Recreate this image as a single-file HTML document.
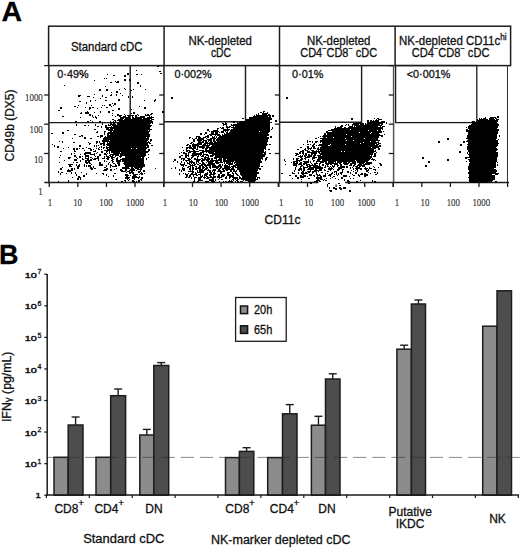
<!DOCTYPE html>
<html><head><meta charset="utf-8"><style>
html,body{margin:0;padding:0;background:#fff;width:520px;height:548px;overflow:hidden}
svg{display:block}
text{stroke:#111;stroke-width:0.3px}
text.ser{stroke-width:0.15px}
text.b10{stroke-width:0.45px}
</style></head><body>
<svg width="520" height="548" viewBox="0 0 520 548"><text x="1.6" y="20.9" font-family="Liberation Sans, sans-serif" font-weight="bold" font-size="27.5" fill="#000" textLength="20.6" lengthAdjust="spacingAndGlyphs">A</text>
<rect x="48.6" y="26.2" width="462" height="39.4" fill="none" stroke="#1c1c1c" stroke-width="1.5"/>
<line x1="164.1" y1="26" x2="164.1" y2="66" stroke="#1c1c1c" stroke-width="1.5"/>
<line x1="279.5" y1="26" x2="279.5" y2="66" stroke="#1c1c1c" stroke-width="1.5"/>
<line x1="395.1" y1="26" x2="395.1" y2="66" stroke="#1c1c1c" stroke-width="1.5"/>
<line x1="48.9" y1="65.5" x2="48.9" y2="183.2" stroke="#1c1c1c" stroke-width="1.5"/>
<line x1="164.0" y1="65.5" x2="164.0" y2="183.2" stroke="#1c1c1c" stroke-width="1.5"/>
<line x1="279.6" y1="65.5" x2="279.6" y2="183.2" stroke="#1c1c1c" stroke-width="1.5"/>
<line x1="393.6" y1="65.5" x2="393.6" y2="183.2" stroke="#555" stroke-width="1.5"/>
<line x1="507.5" y1="65.5" x2="507.5" y2="183" stroke="#333" stroke-width="1"/>
<line x1="44.3" y1="182.6" x2="509" y2="182.6" stroke="#1c1c1c" stroke-width="1.5"/>
<line x1="44.1" y1="65.6" x2="48.9" y2="65.6" stroke="#1c1c1c" stroke-width="1.3"/>
<line x1="44.1" y1="95.0" x2="48.9" y2="95.0" stroke="#1c1c1c" stroke-width="1.3"/>
<line x1="44.1" y1="124.2" x2="48.9" y2="124.2" stroke="#1c1c1c" stroke-width="1.3"/>
<line x1="44.1" y1="153.5" x2="48.9" y2="153.5" stroke="#1c1c1c" stroke-width="1.3"/>
<line x1="159.2" y1="65.6" x2="164.0" y2="65.6" stroke="#1c1c1c" stroke-width="1.3"/>
<line x1="159.2" y1="95.0" x2="164.0" y2="95.0" stroke="#1c1c1c" stroke-width="1.3"/>
<line x1="159.2" y1="124.2" x2="164.0" y2="124.2" stroke="#1c1c1c" stroke-width="1.3"/>
<line x1="159.2" y1="153.5" x2="164.0" y2="153.5" stroke="#1c1c1c" stroke-width="1.3"/>
<line x1="274.8" y1="65.6" x2="279.6" y2="65.6" stroke="#1c1c1c" stroke-width="1.3"/>
<line x1="274.8" y1="95.0" x2="279.6" y2="95.0" stroke="#1c1c1c" stroke-width="1.3"/>
<line x1="274.8" y1="124.2" x2="279.6" y2="124.2" stroke="#1c1c1c" stroke-width="1.3"/>
<line x1="274.8" y1="153.5" x2="279.6" y2="153.5" stroke="#1c1c1c" stroke-width="1.3"/>
<line x1="388.8" y1="65.6" x2="393.6" y2="65.6" stroke="#1c1c1c" stroke-width="1.3"/>
<line x1="388.8" y1="95.0" x2="393.6" y2="95.0" stroke="#1c1c1c" stroke-width="1.3"/>
<line x1="388.8" y1="124.2" x2="393.6" y2="124.2" stroke="#1c1c1c" stroke-width="1.3"/>
<line x1="388.8" y1="153.5" x2="393.6" y2="153.5" stroke="#1c1c1c" stroke-width="1.3"/>
<line x1="49.25" y1="182.6" x2="49.25" y2="187" stroke="#1c1c1c" stroke-width="1.3"/>
<line x1="77.85" y1="182.6" x2="77.85" y2="187" stroke="#1c1c1c" stroke-width="1.3"/>
<line x1="106.45" y1="182.6" x2="106.45" y2="187" stroke="#1c1c1c" stroke-width="1.3"/>
<line x1="135.05" y1="182.6" x2="135.05" y2="187" stroke="#1c1c1c" stroke-width="1.3"/>
<line x1="163.65" y1="182.6" x2="163.65" y2="187" stroke="#1c1c1c" stroke-width="1.3"/>
<line x1="163.90" y1="182.6" x2="163.90" y2="187" stroke="#1c1c1c" stroke-width="1.3"/>
<line x1="192.50" y1="182.6" x2="192.50" y2="187" stroke="#1c1c1c" stroke-width="1.3"/>
<line x1="221.10" y1="182.6" x2="221.10" y2="187" stroke="#1c1c1c" stroke-width="1.3"/>
<line x1="249.70" y1="182.6" x2="249.70" y2="187" stroke="#1c1c1c" stroke-width="1.3"/>
<line x1="278.30" y1="182.6" x2="278.30" y2="187" stroke="#1c1c1c" stroke-width="1.3"/>
<line x1="278.90" y1="182.6" x2="278.90" y2="187" stroke="#1c1c1c" stroke-width="1.3"/>
<line x1="307.50" y1="182.6" x2="307.50" y2="187" stroke="#1c1c1c" stroke-width="1.3"/>
<line x1="336.10" y1="182.6" x2="336.10" y2="187" stroke="#1c1c1c" stroke-width="1.3"/>
<line x1="364.70" y1="182.6" x2="364.70" y2="187" stroke="#1c1c1c" stroke-width="1.3"/>
<line x1="393.30" y1="182.6" x2="393.30" y2="187" stroke="#1c1c1c" stroke-width="1.3"/>
<line x1="393.20" y1="182.6" x2="393.20" y2="187" stroke="#1c1c1c" stroke-width="1.3"/>
<line x1="421.80" y1="182.6" x2="421.80" y2="187" stroke="#1c1c1c" stroke-width="1.3"/>
<line x1="450.40" y1="182.6" x2="450.40" y2="187" stroke="#1c1c1c" stroke-width="1.3"/>
<line x1="479.00" y1="182.6" x2="479.00" y2="187" stroke="#1c1c1c" stroke-width="1.3"/>
<line x1="507.60" y1="182.6" x2="507.60" y2="187" stroke="#1c1c1c" stroke-width="1.3"/>
<polyline points="48.9,122.6 130.2,122.6 130.2,65.5" fill="none" stroke="#1c1c1c" stroke-width="1.4"/>
<polyline points="164.0,121.8 245.5,121.8 245.5,65.5" fill="none" stroke="#1c1c1c" stroke-width="1.4"/>
<polyline points="279.6,122.2 361.6,122.2 361.6,65.5" fill="none" stroke="#1c1c1c" stroke-width="1.4"/>
<rect x="395.6" y="65.5" width="81.2" height="57.1" fill="none" stroke="#1c1c1c" stroke-width="1.3"/>
<text x="106.7" y="50.6" font-family="Liberation Sans, sans-serif" font-size="12" text-anchor="middle" fill="#111" textLength="71.4" lengthAdjust="spacingAndGlyphs">Standard cDC</text>
<text x="220.2" y="45.0" font-family="Liberation Sans, sans-serif" font-size="12" text-anchor="middle" fill="#111" textLength="63.6" lengthAdjust="spacingAndGlyphs">NK-depleted</text>
<text x="221.0" y="56.6" font-family="Liberation Sans, sans-serif" font-size="12" text-anchor="middle" fill="#111" textLength="20.2" lengthAdjust="spacingAndGlyphs">cDC</text>
<text x="338.7" y="45.0" font-family="Liberation Sans, sans-serif" font-size="12" text-anchor="middle" fill="#111" textLength="63.6" lengthAdjust="spacingAndGlyphs">NK-depleted</text>
<text x="338.7" y="56.6" font-family="Liberation Sans, sans-serif" font-size="12" text-anchor="middle" fill="#111" textLength="77" lengthAdjust="spacingAndGlyphs">CD4<tspan dy="-5.5" font-size="8">−</tspan><tspan dy="5.5">CD8</tspan><tspan dy="-5.5" font-size="8">−</tspan><tspan dy="5.5"> cDC</tspan></text>
<text x="450.6" y="56.6" font-family="Liberation Sans, sans-serif" font-size="12" text-anchor="middle" fill="#111" textLength="77.7" lengthAdjust="spacingAndGlyphs">CD4<tspan dy="-5.5" font-size="8">−</tspan><tspan dy="5.5">CD8</tspan><tspan dy="-5.5" font-size="8">−</tspan><tspan dy="5.5"> cDC</tspan></text>
<text x="399" y="45.0" font-family="Liberation Sans, sans-serif" font-size="12" text-anchor="start" fill="#111" textLength="107.5" lengthAdjust="spacingAndGlyphs">NK-depleted CD11c<tspan dy="-5" font-size="8.5">hi</tspan></text>
<text x="57.3" y="77.8" font-family="Liberation Sans, sans-serif" font-size="10.8" text-anchor="start" fill="#111" >0·49%</text>
<text x="174.5" y="77.8" font-family="Liberation Sans, sans-serif" font-size="10.8" text-anchor="start" fill="#111" >0·002%</text>
<text x="292.1" y="77.8" font-family="Liberation Sans, sans-serif" font-size="10.8" text-anchor="start" fill="#111" >0·01%</text>
<text x="406.8" y="77.8" font-family="Liberation Sans, sans-serif" font-size="10.8" text-anchor="start" fill="#111" >&lt;0·001%</text>
<text x="42.8" y="101.3" font-family="Liberation Serif, serif" font-size="10.4" text-anchor="end" fill="#111" fill-opacity="0.85" class="ser" textLength="17.80" lengthAdjust="spacingAndGlyphs">1000</text>
<text x="42.8" y="132.5" font-family="Liberation Serif, serif" font-size="10.4" text-anchor="end" fill="#111" fill-opacity="0.85" class="ser" textLength="13.35" lengthAdjust="spacingAndGlyphs">100</text>
<text x="42.8" y="162.8" font-family="Liberation Serif, serif" font-size="10.4" text-anchor="end" fill="#111" fill-opacity="0.85" class="ser" textLength="8.90" lengthAdjust="spacingAndGlyphs">10</text>
<text x="42.8" y="195.2" font-family="Liberation Serif, serif" font-size="10.4" text-anchor="end" fill="#111" fill-opacity="0.85" class="ser" textLength="4.45" lengthAdjust="spacingAndGlyphs">1</text>
<text x="50" y="205.8" font-family="Liberation Serif, serif" font-size="10.6" text-anchor="middle" fill="#111" fill-opacity="0.85" class="ser" textLength="4.45" lengthAdjust="spacingAndGlyphs">1</text>
<text x="77.6" y="205.8" font-family="Liberation Serif, serif" font-size="10.6" text-anchor="middle" fill="#111" fill-opacity="0.85" class="ser" textLength="8.90" lengthAdjust="spacingAndGlyphs">10</text>
<text x="106" y="205.8" font-family="Liberation Serif, serif" font-size="10.6" text-anchor="middle" fill="#111" fill-opacity="0.85" class="ser" textLength="13.35" lengthAdjust="spacingAndGlyphs">100</text>
<text x="135" y="205.8" font-family="Liberation Serif, serif" font-size="10.6" text-anchor="middle" fill="#111" fill-opacity="0.85" class="ser" textLength="17.80" lengthAdjust="spacingAndGlyphs">1000</text>
<text x="165" y="205.8" font-family="Liberation Serif, serif" font-size="10.6" text-anchor="middle" fill="#111" fill-opacity="0.85" class="ser" textLength="4.45" lengthAdjust="spacingAndGlyphs">1</text>
<text x="193.3" y="205.8" font-family="Liberation Serif, serif" font-size="10.6" text-anchor="middle" fill="#111" fill-opacity="0.85" class="ser" textLength="8.90" lengthAdjust="spacingAndGlyphs">10</text>
<text x="221.3" y="205.8" font-family="Liberation Serif, serif" font-size="10.6" text-anchor="middle" fill="#111" fill-opacity="0.85" class="ser" textLength="13.35" lengthAdjust="spacingAndGlyphs">100</text>
<text x="250" y="205.8" font-family="Liberation Serif, serif" font-size="10.6" text-anchor="middle" fill="#111" fill-opacity="0.85" class="ser" textLength="17.80" lengthAdjust="spacingAndGlyphs">1000</text>
<text x="281.3" y="205.8" font-family="Liberation Serif, serif" font-size="10.6" text-anchor="middle" fill="#111" fill-opacity="0.85" class="ser" textLength="4.45" lengthAdjust="spacingAndGlyphs">1</text>
<text x="308.8" y="205.8" font-family="Liberation Serif, serif" font-size="10.6" text-anchor="middle" fill="#111" fill-opacity="0.85" class="ser" textLength="8.90" lengthAdjust="spacingAndGlyphs">10</text>
<text x="337.5" y="205.8" font-family="Liberation Serif, serif" font-size="10.6" text-anchor="middle" fill="#111" fill-opacity="0.85" class="ser" textLength="13.35" lengthAdjust="spacingAndGlyphs">100</text>
<text x="366.3" y="205.8" font-family="Liberation Serif, serif" font-size="10.6" text-anchor="middle" fill="#111" fill-opacity="0.85" class="ser" textLength="17.80" lengthAdjust="spacingAndGlyphs">1000</text>
<text x="397" y="205.8" font-family="Liberation Serif, serif" font-size="10.6" text-anchor="middle" fill="#111" fill-opacity="0.85" class="ser" textLength="4.45" lengthAdjust="spacingAndGlyphs">1</text>
<text x="425" y="205.8" font-family="Liberation Serif, serif" font-size="10.6" text-anchor="middle" fill="#111" fill-opacity="0.85" class="ser" textLength="8.90" lengthAdjust="spacingAndGlyphs">10</text>
<text x="453.3" y="205.8" font-family="Liberation Serif, serif" font-size="10.6" text-anchor="middle" fill="#111" fill-opacity="0.85" class="ser" textLength="13.35" lengthAdjust="spacingAndGlyphs">100</text>
<text x="481.3" y="205.8" font-family="Liberation Serif, serif" font-size="10.6" text-anchor="middle" fill="#111" fill-opacity="0.85" class="ser" textLength="17.80" lengthAdjust="spacingAndGlyphs">1000</text>
<text x="264.6" y="223.8" font-family="Liberation Sans, sans-serif" font-size="12" text-anchor="start" fill="#111" >CD11c</text>
<text transform="translate(14.3,125.5) rotate(-90)" font-family="Liberation Sans, sans-serif" font-size="12" text-anchor="middle" fill="#111">CD49b (DX5)</text>
<rect x="318.5" y="181" width="26.5" height="3.5" fill="#fff"/>
<path d="M157 66.5h2M136 70.5h1M159 71.5h2M80 73.5h1M127 73.5h2M160 73.5h2M107 74.5h1M127 74.5h2M136 74.5h2M141 74.5h1M82 75.5h2M113 75.5h2M124 75.5h2M124 76.5h2M104 78.5h1M106 78.5h1M124 79.5h2M129 79.5h2M94 80.5h1M124 80.5h2M129 80.5h2M115 81.5h1M117 81.5h2M110 82.5h2M116 82.5h3M137 82.5h2M137 83.5h2M64 85.5h1M140 85.5h1M105 86.5h1M140 86.5h1M124 88.5h1M99 89.5h2M106 89.5h2M119 89.5h1M125 89.5h1M133 89.5h1M145 89.5h1M99 90.5h2M106 90.5h2M130 90.5h2M116 91.5h2M111 92.5h1M116 92.5h2M120 93.5h1M94 94.5h1M111 94.5h1M116 94.5h1M78 95.5h3M102 95.5h1M110 95.5h2M116 95.5h1M122 95.5h1M78 96.5h2M87 96.5h3M102 96.5h1M128 96.5h1M132 96.5h1M93 97.5h1M105 97.5h2M128 97.5h1M132 97.5h1M171 97.5h2M286 97.5h2M100 98.5h1M171 98.5h2M286 98.5h2M118 99.5h2M155 99.5h1M90 100.5h1M95 100.5h1M105 100.5h2M118 100.5h2M144 100.5h1M154 100.5h2M79 101.5h2M90 101.5h1M154 101.5h1M86 102.5h1M86 103.5h1M112 103.5h1M114 103.5h2M130 103.5h1M109 104.5h2M114 104.5h2M78 105.5h1M91 105.5h1M102 105.5h1M104 105.5h1M109 105.5h2M113 105.5h1M74 106.5h2M111 106.5h1M139 106.5h1M60 107.5h2M77 107.5h1M85 107.5h1M89 107.5h2M92 107.5h2M101 107.5h1M106 107.5h2M144 107.5h2M60 108.5h2M89 108.5h2M97 108.5h1M118 108.5h2M144 108.5h2M89 109.5h1M118 109.5h2M131 109.5h1M58 110.5h2M112 110.5h2M87 111.5h1M100 111.5h1M108 111.5h2M162 111.5h2M263 111.5h2M81 112.5h1M85 112.5h4M94 112.5h1M100 112.5h1M108 112.5h2M133 112.5h2M162 112.5h2M260 112.5h2M263 112.5h1M267 112.5h1M80 113.5h2M85 113.5h4M112 113.5h1M131 113.5h1M133 113.5h2M151 113.5h2M258 113.5h1M262 113.5h6M89 114.5h2M117 114.5h2M124 114.5h1M137 114.5h1M145 114.5h1M147 114.5h2M150 114.5h2M256 114.5h1M258 114.5h1M262 114.5h5M268 114.5h2M89 115.5h2M92 115.5h1M98 115.5h1M112 115.5h1M117 115.5h5M125 115.5h1M127 115.5h3M131 115.5h3M135 115.5h2M138 115.5h1M145 115.5h5M254 115.5h1M256 115.5h15M272 115.5h2M62 116.5h2M92 116.5h1M95 116.5h1M115 116.5h1M119 116.5h2M123 116.5h3M128 116.5h2M132 116.5h1M135 116.5h2M140 116.5h5M149 116.5h1M151 116.5h1M253 116.5h15M269 116.5h2M272 116.5h2M497 116.5h2M80 117.5h1M93 117.5h1M95 117.5h2M120 117.5h10M132 117.5h2M135 117.5h10M147 117.5h7M245 117.5h1M249 117.5h22M485 117.5h1M490 117.5h6M497 117.5h2M96 118.5h1M120 118.5h4M125 118.5h6M132 118.5h10M143 118.5h9M242 118.5h2M245 118.5h1M249 118.5h23M351 118.5h2M374 118.5h1M377 118.5h2M479 118.5h1M481 118.5h1M483 118.5h3M489 118.5h5M495 118.5h2M112 119.5h2M118 119.5h5M124 119.5h26M151 119.5h3M246 119.5h26M351 119.5h2M376 119.5h1M378 119.5h4M477 119.5h1M479 119.5h9M489 119.5h6M496 119.5h3M90 120.5h1M114 120.5h2M117 120.5h35M245 120.5h25M275 120.5h2M367 120.5h2M370 120.5h2M373 120.5h1M375 120.5h4M477 120.5h21M75 121.5h2M87 121.5h2M92 121.5h1M99 121.5h2M110 121.5h1M113 121.5h1M115 121.5h1M119 121.5h34M231 121.5h4M240 121.5h30M275 121.5h2M367 121.5h2M370 121.5h9M381 121.5h4M472 121.5h3M476 121.5h22M75 122.5h2M82 122.5h1M99 122.5h2M104 122.5h1M113 122.5h3M120 122.5h33M225 122.5h1M233 122.5h2M237 122.5h1M239 122.5h33M359 122.5h2M367 122.5h18M386 122.5h1M471 122.5h26M102 123.5h1M110 123.5h2M113 123.5h2M117 123.5h34M152 123.5h1M222 123.5h2M225 123.5h2M237 123.5h33M353 123.5h11M365 123.5h1M367 123.5h16M386 123.5h1M472 123.5h26M76 124.5h1M95 124.5h1M102 124.5h1M108 124.5h1M110 124.5h6M117 124.5h33M223 124.5h4M231 124.5h1M233 124.5h37M346 124.5h1M348 124.5h1M352 124.5h7M360 124.5h4M365 124.5h15M381 124.5h2M471 124.5h28M76 125.5h1M84 125.5h2M88 125.5h1M95 125.5h1M105 125.5h2M108 125.5h3M112 125.5h40M223 125.5h1M226 125.5h1M231 125.5h39M341 125.5h2M345 125.5h1M348 125.5h1M352 125.5h1M354 125.5h28M469 125.5h30M97 126.5h2M101 126.5h1M105 126.5h2M111 126.5h1M113 126.5h38M226 126.5h2M229 126.5h2M233 126.5h1M235 126.5h35M335 126.5h1M340 126.5h3M349 126.5h4M354 126.5h1M356 126.5h22M380 126.5h1M382 126.5h3M468 126.5h30M101 127.5h1M105 127.5h45M220 127.5h1M222 127.5h2M226 127.5h4M231 127.5h39M272 127.5h1M335 127.5h1M337 127.5h5M344 127.5h2M348 127.5h35M466 127.5h1M468 127.5h30M106 128.5h3M110 128.5h40M217 128.5h2M221 128.5h3M227 128.5h1M233 128.5h37M272 128.5h1M334 128.5h49M468 128.5h29M94 129.5h2M106 129.5h7M114 129.5h38M207 129.5h2M217 129.5h1M223 129.5h7M231 129.5h39M271 129.5h1M331 129.5h19M351 129.5h30M382 129.5h1M466 129.5h2M469 129.5h30M67 130.5h2M108 130.5h40M149 130.5h1M207 130.5h2M213 130.5h5M223 130.5h6M230 130.5h40M328 130.5h40M369 130.5h8M378 130.5h3M466 130.5h33M97 131.5h1M104 131.5h2M110 131.5h2M113 131.5h37M209 131.5h1M211 131.5h8M221 131.5h3M225 131.5h1M227 131.5h1M230 131.5h29M260 131.5h10M326 131.5h2M332 131.5h50M383 131.5h1M466 131.5h32M62 132.5h2M96 132.5h2M104 132.5h1M108 132.5h41M205 132.5h2M211 132.5h3M215 132.5h3M219 132.5h1M221 132.5h3M226 132.5h2M229 132.5h40M326 132.5h33M360 132.5h11M372 132.5h10M468 132.5h30M51 133.5h2M62 133.5h2M104 133.5h1M107 133.5h42M200 133.5h2M205 133.5h2M211 133.5h3M215 133.5h3M224 133.5h1M226 133.5h42M324 133.5h2M327 133.5h43M371 133.5h8M468 133.5h30M74 134.5h2M104 134.5h1M107 134.5h2M110 134.5h40M200 134.5h2M204 134.5h1M209 134.5h11M222 134.5h1M224 134.5h45M324 134.5h2M327 134.5h19M347 134.5h33M384 134.5h1M468 134.5h29M81 135.5h2M100 135.5h3M107 135.5h43M207 135.5h2M210 135.5h2M215 135.5h1M217 135.5h4M222 135.5h47M323 135.5h60M467 135.5h30M499 135.5h1M79 136.5h2M82 136.5h1M97 136.5h2M100 136.5h3M105 136.5h1M107 136.5h43M196 136.5h4M205 136.5h4M212 136.5h1M214 136.5h1M216 136.5h1M219 136.5h48M270 136.5h2M320 136.5h1M322 136.5h29M352 136.5h27M381 136.5h2M467 136.5h30M499 136.5h1M84 137.5h2M100 137.5h1M104 137.5h42M147 137.5h2M189 137.5h2M196 137.5h1M198 137.5h3M203 137.5h3M207 137.5h2M212 137.5h3M216 137.5h1M218 137.5h51M270 137.5h2M318 137.5h1M323 137.5h3M327 137.5h6M334 137.5h45M467 137.5h30M72 138.5h1M84 138.5h2M90 138.5h2M103 138.5h46M189 138.5h1M192 138.5h1M195 138.5h2M198 138.5h6M206 138.5h1M210 138.5h6M217 138.5h52M315 138.5h2M320 138.5h25M346 138.5h18M365 138.5h13M447 138.5h2M466 138.5h31M103 139.5h46M150 139.5h2M193 139.5h2M197 139.5h7M207 139.5h5M213 139.5h2M216 139.5h52M322 139.5h56M447 139.5h2M468 139.5h28M498 139.5h1M102 140.5h7M110 140.5h38M150 140.5h2M193 140.5h2M197 140.5h5M203 140.5h4M208 140.5h4M213 140.5h2M216 140.5h52M307 140.5h1M320 140.5h26M347 140.5h6M354 140.5h26M467 140.5h31M59 141.5h1M62 141.5h1M96 141.5h2M99 141.5h1M102 141.5h45M148 141.5h1M150 141.5h1M193 141.5h2M198 141.5h3M202 141.5h2M205 141.5h2M208 141.5h1M210 141.5h2M213 141.5h3M217 141.5h51M307 141.5h1M309 141.5h2M312 141.5h1M315 141.5h3M320 141.5h50M371 141.5h5M378 141.5h1M438 141.5h2M463 141.5h2M466 141.5h32M62 142.5h1M73 142.5h2M88 142.5h1M96 142.5h2M99 142.5h1M103 142.5h2M107 142.5h1M109 142.5h41M191 142.5h2M198 142.5h6M205 142.5h3M209 142.5h4M214 142.5h53M307 142.5h1M312 142.5h1M315 142.5h2M320 142.5h1M322 142.5h41M364 142.5h15M438 142.5h2M463 142.5h2M468 142.5h30M89 143.5h2M96 143.5h1M100 143.5h5M107 143.5h41M149 143.5h2M190 143.5h2M193 143.5h1M197 143.5h5M204 143.5h63M314 143.5h1M322 143.5h38M361 143.5h16M378 143.5h3M468 143.5h31M52 144.5h1M89 144.5h1M100 144.5h2M103 144.5h2M106 144.5h42M187 144.5h2M192 144.5h10M203 144.5h3M207 144.5h1M209 144.5h59M269 144.5h2M303 144.5h1M307 144.5h2M310 144.5h1M313 144.5h2M319 144.5h11M331 144.5h14M346 144.5h29M376 144.5h3M460 144.5h2M467 144.5h31M54 145.5h1M79 145.5h2M94 145.5h1M96 145.5h1M98 145.5h1M103 145.5h2M107 145.5h42M151 145.5h2M186 145.5h2M189 145.5h2M192 145.5h7M202 145.5h8M212 145.5h55M312 145.5h2M316 145.5h1M318 145.5h10M330 145.5h48M379 145.5h2M460 145.5h2M468 145.5h30M54 146.5h1M57 146.5h2M79 146.5h2M94 146.5h1M96 146.5h1M101 146.5h1M106 146.5h1M109 146.5h37M147 146.5h2M189 146.5h2M192 146.5h4M197 146.5h8M206 146.5h3M211 146.5h55M307 146.5h2M312 146.5h3M321 146.5h60M467 146.5h30M57 147.5h2M68 147.5h1M86 147.5h1M99 147.5h1M101 147.5h1M103 147.5h2M106 147.5h43M182 147.5h1M186 147.5h6M193 147.5h3M197 147.5h1M199 147.5h6M206 147.5h60M300 147.5h2M307 147.5h2M311 147.5h1M313 147.5h2M318 147.5h1M320 147.5h51M372 147.5h7M467 147.5h29M63 148.5h1M73 148.5h2M76 148.5h2M79 148.5h1M82 148.5h2M88 148.5h3M96 148.5h1M98 148.5h1M103 148.5h1M106 148.5h2M109 148.5h22M132 148.5h4M137 148.5h10M186 148.5h2M189 148.5h7M197 148.5h1M202 148.5h2M205 148.5h3M209 148.5h57M305 148.5h1M307 148.5h5M313 148.5h3M317 148.5h2M320 148.5h56M378 148.5h2M467 148.5h30M73 149.5h2M76 149.5h2M90 149.5h2M93 149.5h1M98 149.5h2M101 149.5h1M107 149.5h39M148 149.5h2M186 149.5h1M192 149.5h2M196 149.5h2M205 149.5h2M209 149.5h55M265 149.5h1M268 149.5h2M297 149.5h2M304 149.5h2M308 149.5h1M310 149.5h1M317 149.5h57M378 149.5h2M467 149.5h31M74 150.5h1M84 150.5h1M90 150.5h2M95 150.5h1M104 150.5h42M148 150.5h2M183 150.5h1M186 150.5h4M193 150.5h2M199 150.5h5M205 150.5h59M302 150.5h2M305 150.5h3M311 150.5h3M316 150.5h1M318 150.5h1M320 150.5h54M375 150.5h1M468 150.5h29M60 151.5h2M74 151.5h2M93 151.5h3M101 151.5h2M106 151.5h2M109 151.5h1M111 151.5h38M186 151.5h2M189 151.5h10M202 151.5h62M265 151.5h1M300 151.5h4M307 151.5h3M312 151.5h29M342 151.5h2M345 151.5h31M459 151.5h2M468 151.5h28M85 152.5h6M97 152.5h1M101 152.5h2M106 152.5h1M109 152.5h1M111 152.5h9M121 152.5h27M181 152.5h1M183 152.5h2M188 152.5h3M193 152.5h3M200 152.5h4M206 152.5h1M208 152.5h6M215 152.5h51M299 152.5h2M302 152.5h2M307 152.5h10M318 152.5h2M321 152.5h53M376 152.5h1M459 152.5h2M467 152.5h1M469 152.5h29M71 153.5h1M74 153.5h1M84 153.5h7M94 153.5h1M96 153.5h1M104 153.5h2M107 153.5h1M109 153.5h1M113 153.5h33M179 153.5h1M183 153.5h4M188 153.5h1M192 153.5h10M203 153.5h1M209 153.5h54M264 153.5h2M269 153.5h2M295 153.5h3M299 153.5h2M302 153.5h2M305 153.5h2M311 153.5h6M319 153.5h54M374 153.5h2M467 153.5h1M469 153.5h29M71 154.5h1M80 154.5h1M84 154.5h2M90 154.5h5M99 154.5h2M104 154.5h3M110 154.5h9M120 154.5h26M148 154.5h1M185 154.5h2M188 154.5h1M192 154.5h10M203 154.5h5M212 154.5h54M296 154.5h3M303 154.5h1M305 154.5h2M308 154.5h2M311 154.5h2M314 154.5h2M320 154.5h53M374 154.5h2M468 154.5h30M60 155.5h1M74 155.5h2M85 155.5h4M94 155.5h1M99 155.5h2M106 155.5h1M109 155.5h2M112 155.5h2M115 155.5h4M120 155.5h26M181 155.5h2M185 155.5h4M191 155.5h6M198 155.5h1M200 155.5h1M202 155.5h2M206 155.5h3M210 155.5h4M215 155.5h50M295 155.5h2M300 155.5h1M302 155.5h1M304 155.5h3M308 155.5h4M313 155.5h3M317 155.5h4M322 155.5h48M371 155.5h1M374 155.5h2M469 155.5h29M74 156.5h2M79 156.5h2M82 156.5h1M85 156.5h4M95 156.5h1M97 156.5h2M104 156.5h1M106 156.5h3M110 156.5h3M115 156.5h1M119 156.5h3M125 156.5h20M179 156.5h2M185 156.5h2M188 156.5h1M192 156.5h2M197 156.5h2M201 156.5h3M205 156.5h1M208 156.5h1M210 156.5h3M215 156.5h50M298 156.5h5M304 156.5h2M307 156.5h5M313 156.5h2M318 156.5h54M373 156.5h3M469 156.5h29M59 157.5h1M68 157.5h3M76 157.5h1M79 157.5h2M85 157.5h1M88 157.5h1M90 157.5h2M97 157.5h2M104 157.5h1M107 157.5h3M111 157.5h4M117 157.5h1M120 157.5h1M125 157.5h16M142 157.5h2M148 157.5h1M179 157.5h2M185 157.5h2M191 157.5h2M197 157.5h1M204 157.5h5M214 157.5h49M266 157.5h2M300 157.5h2M305 157.5h5M312 157.5h5M318 157.5h54M422 157.5h2M465 157.5h32M68 158.5h2M77 158.5h1M82 158.5h1M85 158.5h4M92 158.5h1M94 158.5h5M102 158.5h3M106 158.5h3M111 158.5h2M116 158.5h2M122 158.5h22M146 158.5h1M181 158.5h4M187 158.5h3M191 158.5h1M194 158.5h2M197 158.5h1M201 158.5h2M204 158.5h2M207 158.5h3M211 158.5h2M214 158.5h3M219 158.5h3M223 158.5h40M265 158.5h2M293 158.5h1M296 158.5h3M301 158.5h2M304 158.5h2M312 158.5h3M318 158.5h53M372 158.5h1M422 158.5h2M465 158.5h2M470 158.5h27M74 159.5h3M82 159.5h2M87 159.5h2M90 159.5h2M93 159.5h3M98 159.5h1M107 159.5h2M112 159.5h2M116 159.5h2M120 159.5h24M146 159.5h1M174 159.5h2M181 159.5h1M183 159.5h2M188 159.5h3M194 159.5h7M202 159.5h8M211 159.5h2M216 159.5h1M218 159.5h4M223 159.5h3M227 159.5h34M262 159.5h1M265 159.5h2M284 159.5h1M293 159.5h1M296 159.5h2M300 159.5h3M305 159.5h1M308 159.5h1M312 159.5h1M317 159.5h4M322 159.5h48M371 159.5h4M447 159.5h2M468 159.5h29M64 160.5h1M74 160.5h3M80 160.5h1M85 160.5h7M98 160.5h1M104 160.5h1M111 160.5h2M116 160.5h5M122 160.5h22M174 160.5h2M183 160.5h1M185 160.5h5M191 160.5h1M196 160.5h4M201 160.5h4M206 160.5h3M210 160.5h12M223 160.5h38M265 160.5h1M284 160.5h1M296 160.5h6M308 160.5h1M313 160.5h2M317 160.5h3M322 160.5h33M356 160.5h13M373 160.5h1M375 160.5h1M447 160.5h2M469 160.5h28M80 161.5h1M85 161.5h2M88 161.5h2M104 161.5h1M106 161.5h1M112 161.5h2M116 161.5h5M122 161.5h22M173 161.5h1M177 161.5h1M181 161.5h1M186 161.5h1M189 161.5h4M196 161.5h3M201 161.5h2M207 161.5h7M215 161.5h3M220 161.5h2M223 161.5h11M235 161.5h27M285 161.5h1M293 161.5h5M299 161.5h1M303 161.5h6M310 161.5h1M313 161.5h1M316 161.5h11M328 161.5h8M337 161.5h19M357 161.5h11M428 161.5h2M466 161.5h1M469 161.5h28M59 162.5h1M73 162.5h1M76 162.5h2M85 162.5h5M99 162.5h2M109 162.5h1M112 162.5h1M117 162.5h3M124 162.5h20M177 162.5h1M181 162.5h1M184 162.5h1M187 162.5h1M189 162.5h6M196 162.5h1M198 162.5h1M202 162.5h2M206 162.5h1M208 162.5h5M215 162.5h8M224 162.5h1M226 162.5h5M232 162.5h1M234 162.5h28M291 162.5h1M293 162.5h2M296 162.5h2M300 162.5h2M304 162.5h5M310 162.5h1M316 162.5h1M320 162.5h4M325 162.5h2M328 162.5h6M335 162.5h1M337 162.5h5M343 162.5h4M348 162.5h2M352 162.5h4M357 162.5h8M366 162.5h6M428 162.5h2M470 162.5h26M497 162.5h1M86 163.5h2M89 163.5h2M99 163.5h2M108 163.5h1M113 163.5h2M117 163.5h3M123 163.5h21M180 163.5h1M184 163.5h1M187 163.5h3M191 163.5h1M193 163.5h2M196 163.5h1M199 163.5h2M202 163.5h3M208 163.5h7M216 163.5h3M224 163.5h1M226 163.5h7M234 163.5h1M236 163.5h24M293 163.5h5M299 163.5h3M303 163.5h4M311 163.5h1M314 163.5h4M319 163.5h2M325 163.5h13M339 163.5h2M343 163.5h6M350 163.5h6M359 163.5h5M365 163.5h7M379 163.5h2M469 163.5h27M68 164.5h5M76 164.5h1M79 164.5h1M84 164.5h1M91 164.5h1M99 164.5h4M108 164.5h1M110 164.5h1M115 164.5h1M118 164.5h2M124 164.5h21M180 164.5h5M189 164.5h2M192 164.5h1M194 164.5h2M197 164.5h2M201 164.5h5M207 164.5h8M219 164.5h2M222 164.5h1M225 164.5h1M228 164.5h5M235 164.5h25M285 164.5h1M293 164.5h4M298 164.5h4M303 164.5h2M306 164.5h4M312 164.5h1M314 164.5h2M319 164.5h1M322 164.5h2M326 164.5h3M330 164.5h2M334 164.5h4M340 164.5h2M344 164.5h4M350 164.5h2M354 164.5h2M358 164.5h4M363 164.5h7M380 164.5h2M469 164.5h27M497 164.5h1M69 165.5h2M76 165.5h1M78 165.5h2M84 165.5h1M86 165.5h1M88 165.5h3M99 165.5h4M106 165.5h1M110 165.5h2M115 165.5h2M118 165.5h2M125 165.5h20M181 165.5h3M185 165.5h2M190 165.5h5M199 165.5h4M204 165.5h7M212 165.5h4M218 165.5h3M222 165.5h1M224 165.5h4M229 165.5h1M233 165.5h27M293 165.5h4M301 165.5h2M306 165.5h2M309 165.5h9M319 165.5h1M322 165.5h2M325 165.5h1M327 165.5h1M332 165.5h1M334 165.5h1M337 165.5h2M340 165.5h2M349 165.5h3M353 165.5h2M357 165.5h8M380 165.5h2M425 165.5h2M469 165.5h27M497 165.5h1M69 166.5h3M77 166.5h3M84 166.5h1M86 166.5h1M88 166.5h3M93 166.5h1M106 166.5h1M110 166.5h1M112 166.5h5M125 166.5h20M183 166.5h1M188 166.5h3M192 166.5h1M195 166.5h2M199 166.5h2M202 166.5h2M205 166.5h2M209 166.5h2M212 166.5h10M224 166.5h6M231 166.5h5M237 166.5h23M261 166.5h2M296 166.5h1M300 166.5h2M303 166.5h1M307 166.5h4M313 166.5h8M325 166.5h1M327 166.5h2M330 166.5h1M332 166.5h3M337 166.5h1M340 166.5h5M346 166.5h2M353 166.5h1M355 166.5h3M359 166.5h2M362 166.5h3M373 166.5h1M425 166.5h2M468 166.5h28M62 167.5h1M77 167.5h2M90 167.5h2M93 167.5h1M104 167.5h2M110 167.5h1M122 167.5h7M131 167.5h2M134 167.5h9M175 167.5h1M182 167.5h1M187 167.5h2M190 167.5h1M192 167.5h2M196 167.5h1M198 167.5h3M202 167.5h3M206 167.5h2M209 167.5h2M212 167.5h7M220 167.5h2M224 167.5h7M232 167.5h2M235 167.5h24M295 167.5h1M300 167.5h1M303 167.5h5M309 167.5h14M324 167.5h2M329 167.5h1M331 167.5h1M333 167.5h1M338 167.5h7M346 167.5h2M350 167.5h1M352 167.5h1M356 167.5h4M365 167.5h1M369 167.5h1M374 167.5h1M378 167.5h1M468 167.5h28M60 168.5h2M71 168.5h2M74 168.5h1M77 168.5h2M90 168.5h3M94 168.5h2M106 168.5h2M116 168.5h1M122 168.5h8M131 168.5h3M135 168.5h4M140 168.5h2M155 168.5h1M171 168.5h1M175 168.5h1M182 168.5h3M189 168.5h2M192 168.5h2M195 168.5h6M202 168.5h2M205 168.5h3M210 168.5h1M216 168.5h2M219 168.5h2M222 168.5h8M231 168.5h3M237 168.5h24M295 168.5h1M299 168.5h3M303 168.5h2M308 168.5h6M315 168.5h8M328 168.5h5M338 168.5h4M350 168.5h1M353 168.5h1M355 168.5h7M364 168.5h4M369 168.5h3M468 168.5h26M60 169.5h2M68 169.5h1M71 169.5h2M74 169.5h1M91 169.5h2M104 169.5h4M110 169.5h2M114 169.5h1M120 169.5h2M125 169.5h2M130 169.5h5M137 169.5h5M179 169.5h1M182 169.5h3M189 169.5h2M192 169.5h2M195 169.5h2M199 169.5h4M204 169.5h3M208 169.5h1M213 169.5h3M218 169.5h2M222 169.5h2M225 169.5h10M237 169.5h21M259 169.5h2M295 169.5h1M298 169.5h4M303 169.5h2M307 169.5h7M315 169.5h2M319 169.5h3M324 169.5h1M328 169.5h4M333 169.5h1M337 169.5h3M342 169.5h2M353 169.5h1M356 169.5h2M360 169.5h2M365 169.5h2M368 169.5h1M373 169.5h3M468 169.5h28M67 170.5h6M103 170.5h4M110 170.5h2M120 170.5h3M125 170.5h2M129 170.5h6M136 170.5h1M140 170.5h1M143 170.5h2M179 170.5h1M181 170.5h1M183 170.5h2M190 170.5h1M192 170.5h1M197 170.5h1M199 170.5h6M207 170.5h4M212 170.5h4M218 170.5h3M223 170.5h2M226 170.5h2M230 170.5h2M233 170.5h2M236 170.5h1M239 170.5h19M294 170.5h1M298 170.5h2M301 170.5h1M303 170.5h2M310 170.5h1M314 170.5h8M324 170.5h2M330 170.5h1M337 170.5h2M342 170.5h1M351 170.5h1M355 170.5h1M357 170.5h1M366 170.5h3M375 170.5h1M469 170.5h28M58 171.5h1M67 171.5h4M121 171.5h5M127 171.5h3M131 171.5h2M138 171.5h3M143 171.5h2M181 171.5h1M188 171.5h6M197 171.5h1M199 171.5h5M209 171.5h2M212 171.5h1M214 171.5h1M217 171.5h8M230 171.5h2M233 171.5h4M239 171.5h18M294 171.5h1M302 171.5h2M307 171.5h4M312 171.5h5M318 171.5h1M327 171.5h2M334 171.5h3M342 171.5h1M347 171.5h2M353 171.5h1M357 171.5h1M366 171.5h2M469 171.5h28M58 172.5h1M61 172.5h2M71 172.5h1M75 172.5h1M81 172.5h1M126 172.5h1M129 172.5h5M138 172.5h2M141 172.5h1M192 172.5h2M195 172.5h1M197 172.5h7M207 172.5h1M209 172.5h3M213 172.5h2M220 172.5h2M227 172.5h3M232 172.5h1M235 172.5h1M240 172.5h19M292 172.5h1M298 172.5h1M301 172.5h3M305 172.5h2M308 172.5h2M312 172.5h2M316 172.5h1M321 172.5h2M332 172.5h1M334 172.5h1M336 172.5h1M340 172.5h3M347 172.5h2M350 172.5h1M355 172.5h2M368 172.5h1M374 172.5h2M377 172.5h1M468 172.5h28M60 173.5h1M66 173.5h1M71 173.5h1M75 173.5h1M86 173.5h1M96 173.5h1M102 173.5h2M114 173.5h2M129 173.5h2M132 173.5h2M140 173.5h3M144 173.5h1M179 173.5h1M183 173.5h1M185 173.5h1M188 173.5h1M191 173.5h2M195 173.5h2M200 173.5h1M205 173.5h3M210 173.5h2M213 173.5h3M220 173.5h2M227 173.5h2M232 173.5h2M235 173.5h2M240 173.5h19M281 173.5h2M292 173.5h3M298 173.5h1M301 173.5h7M312 173.5h1M316 173.5h1M325 173.5h1M327 173.5h1M331 173.5h2M336 173.5h1M338 173.5h1M340 173.5h2M350 173.5h1M355 173.5h2M361 173.5h2M364 173.5h2M370 173.5h1M377 173.5h1M468 173.5h31M60 174.5h1M76 174.5h1M86 174.5h1M103 174.5h1M106 174.5h1M125 174.5h3M133 174.5h5M139 174.5h1M141 174.5h2M179 174.5h1M185 174.5h3M190 174.5h7M198 174.5h3M204 174.5h4M209 174.5h6M218 174.5h2M222 174.5h3M227 174.5h4M233 174.5h1M236 174.5h2M240 174.5h17M302 174.5h2M309 174.5h3M316 174.5h2M319 174.5h1M325 174.5h1M329 174.5h3M334 174.5h1M336 174.5h1M338 174.5h1M341 174.5h1M352 174.5h1M358 174.5h1M360 174.5h3M364 174.5h4M375 174.5h2M469 174.5h23M495 174.5h3M76 175.5h1M83 175.5h2M106 175.5h1M113 175.5h1M125 175.5h4M130 175.5h1M133 175.5h3M186 175.5h2M189 175.5h2M193 175.5h1M196 175.5h2M200 175.5h1M202 175.5h1M204 175.5h3M209 175.5h2M213 175.5h1M218 175.5h2M221 175.5h4M227 175.5h7M237 175.5h2M241 175.5h16M289 175.5h2M295 175.5h2M300 175.5h2M303 175.5h3M309 175.5h3M313 175.5h2M317 175.5h4M323 175.5h3M328 175.5h3M337 175.5h1M343 175.5h4M353 175.5h2M358 175.5h2M364 175.5h4M469 175.5h26M78 176.5h2M83 176.5h2M108 176.5h1M113 176.5h1M126 176.5h2M132 176.5h5M139 176.5h1M186 176.5h2M189 176.5h2M193 176.5h1M200 176.5h3M204 176.5h1M206 176.5h2M210 176.5h2M213 176.5h3M217 176.5h3M221 176.5h3M226 176.5h1M229 176.5h5M239 176.5h1M242 176.5h15M295 176.5h2M300 176.5h6M307 176.5h1M314 176.5h1M317 176.5h1M320 176.5h2M323 176.5h3M330 176.5h1M333 176.5h2M343 176.5h4M349 176.5h1M359 176.5h1M364 176.5h2M469 176.5h26M72 177.5h1M78 177.5h3M125 177.5h5M132 177.5h8M141 177.5h2M185 177.5h2M188 177.5h2M191 177.5h1M194 177.5h3M198 177.5h4M203 177.5h3M207 177.5h9M217 177.5h5M225 177.5h2M229 177.5h2M232 177.5h6M239 177.5h2M242 177.5h14M257 177.5h3M297 177.5h2M300 177.5h4M316 177.5h6M332 177.5h1M341 177.5h2M468 177.5h27M77 178.5h2M80 178.5h1M125 178.5h4M132 178.5h3M138 178.5h1M141 178.5h2M191 178.5h1M194 178.5h1M198 178.5h3M204 178.5h1M206 178.5h3M212 178.5h2M219 178.5h1M225 178.5h2M229 178.5h1M233 178.5h5M239 178.5h17M257 178.5h1M259 178.5h1M292 178.5h1M297 178.5h2M308 178.5h2M316 178.5h6M326 178.5h1M330 178.5h1M335 178.5h1M341 178.5h2M350 178.5h1M353 178.5h1M469 178.5h26M77 179.5h2M80 179.5h1M115 179.5h2M127 179.5h1M129 179.5h1M134 179.5h1M140 179.5h2M194 179.5h1M198 179.5h3M209 179.5h5M215 179.5h1M218 179.5h1M221 179.5h2M232 179.5h2M235 179.5h1M237 179.5h2M241 179.5h17M301 179.5h1M317 179.5h2M320 179.5h3M324 179.5h1M338 179.5h1M344 179.5h1M469 179.5h26M68 180.5h1M124 180.5h2M128 180.5h1M132 180.5h2M138 180.5h2M141 180.5h1M194 180.5h1M198 180.5h5M209 180.5h5M215 180.5h1M229 180.5h1M231 180.5h1M233 180.5h1M236 180.5h2M243 180.5h1M245 180.5h11M316 180.5h4M323 180.5h1M325 180.5h2M344 180.5h1M347 180.5h2M360 180.5h1M372 180.5h1M469 180.5h24M58 181.5h1M68 181.5h1M121 181.5h2M125 181.5h1M132 181.5h3M136 181.5h1M138 181.5h2M193 181.5h2M197 181.5h2M205 181.5h4M211 181.5h4M219 181.5h1M223 181.5h1M225 181.5h2M228 181.5h5M235 181.5h1M237 181.5h2M240 181.5h3M248 181.5h7M301 181.5h1M314 181.5h4M319 181.5h2M347 181.5h3M356 181.5h2M372 181.5h1M374 181.5h2M469 181.5h23M495 181.5h2M133 182.5h2M193 182.5h2M205 182.5h2M212 182.5h2M223 182.5h1M231 182.5h2M237 182.5h2M249 182.5h1M251 182.5h1M253 182.5h1M310 182.5h2M316 182.5h2M348 182.5h2M356 182.5h2M374 182.5h2M470 182.5h7M478 182.5h1M480 182.5h5M486 182.5h2M495 182.5h2M310 183.5h2M328 183.5h2M338 183.5h2M348 183.5h2M327 184.5h1M327 185.5h1M339 185.5h2M327 186.5h1M329 187.5h1M333 187.5h2M339 187.5h2M343 187.5h3M329 188.5h1M333 188.5h4M339 188.5h3M343 188.5h3M335 189.5h2M340 189.5h2M329 190.5h3M349 190.5h2M330 191.5h2M349 191.5h2" stroke="#000" stroke-width="1" fill="none" shape-rendering="crispEdges"/>
<text x="-1" y="263.5" font-family="Liberation Sans, sans-serif" font-weight="bold" font-size="27" fill="#000">B</text>
<rect x="54.0" y="457.3" width="14.20" height="37.90" fill="#8c8c8c" stroke="#1c1c1c" stroke-width="1.5"/>
<line x1="75.60" y1="425.0" x2="75.60" y2="417.0" stroke="#1c1c1c" stroke-width="1.4"/>
<line x1="71.60" y1="417.0" x2="79.60" y2="417.0" stroke="#1c1c1c" stroke-width="1.4"/>
<rect x="68.2" y="425.0" width="14.80" height="70.20" fill="#4d4d4d" stroke="#1c1c1c" stroke-width="1.5"/>
<rect x="96.0" y="457.3" width="14.70" height="37.90" fill="#8c8c8c" stroke="#1c1c1c" stroke-width="1.5"/>
<line x1="118.15" y1="395.7" x2="118.15" y2="389.0" stroke="#1c1c1c" stroke-width="1.4"/>
<line x1="114.15" y1="389.0" x2="122.15" y2="389.0" stroke="#1c1c1c" stroke-width="1.4"/>
<rect x="110.7" y="395.7" width="14.90" height="99.50" fill="#4d4d4d" stroke="#1c1c1c" stroke-width="1.5"/>
<line x1="146.80" y1="435.0" x2="146.80" y2="429.4" stroke="#1c1c1c" stroke-width="1.4"/>
<line x1="142.80" y1="429.4" x2="150.80" y2="429.4" stroke="#1c1c1c" stroke-width="1.4"/>
<rect x="139.8" y="435.0" width="14.00" height="60.20" fill="#8c8c8c" stroke="#1c1c1c" stroke-width="1.5"/>
<line x1="161.25" y1="365.5" x2="161.25" y2="362.6" stroke="#1c1c1c" stroke-width="1.4"/>
<line x1="157.25" y1="362.6" x2="165.25" y2="362.6" stroke="#1c1c1c" stroke-width="1.4"/>
<rect x="153.8" y="365.5" width="14.90" height="129.70" fill="#4d4d4d" stroke="#1c1c1c" stroke-width="1.5"/>
<rect x="225.5" y="457.6" width="13.90" height="37.60" fill="#8c8c8c" stroke="#1c1c1c" stroke-width="1.5"/>
<line x1="246.60" y1="451.4" x2="246.60" y2="447.7" stroke="#1c1c1c" stroke-width="1.4"/>
<line x1="242.60" y1="447.7" x2="250.60" y2="447.7" stroke="#1c1c1c" stroke-width="1.4"/>
<rect x="239.4" y="451.4" width="14.40" height="43.80" fill="#4d4d4d" stroke="#1c1c1c" stroke-width="1.5"/>
<rect x="267.7" y="457.6" width="14.80" height="37.60" fill="#8c8c8c" stroke="#1c1c1c" stroke-width="1.5"/>
<line x1="289.75" y1="413.8" x2="289.75" y2="404.6" stroke="#1c1c1c" stroke-width="1.4"/>
<line x1="285.75" y1="404.6" x2="293.75" y2="404.6" stroke="#1c1c1c" stroke-width="1.4"/>
<rect x="282.5" y="413.8" width="14.50" height="81.40" fill="#4d4d4d" stroke="#1c1c1c" stroke-width="1.5"/>
<line x1="318.45" y1="425.2" x2="318.45" y2="416.3" stroke="#1c1c1c" stroke-width="1.4"/>
<line x1="314.45" y1="416.3" x2="322.45" y2="416.3" stroke="#1c1c1c" stroke-width="1.4"/>
<rect x="311.4" y="425.2" width="14.10" height="70.00" fill="#8c8c8c" stroke="#1c1c1c" stroke-width="1.5"/>
<line x1="332.75" y1="379.0" x2="332.75" y2="373.8" stroke="#1c1c1c" stroke-width="1.4"/>
<line x1="328.75" y1="373.8" x2="336.75" y2="373.8" stroke="#1c1c1c" stroke-width="1.4"/>
<rect x="325.5" y="379.0" width="14.50" height="116.20" fill="#4d4d4d" stroke="#1c1c1c" stroke-width="1.5"/>
<line x1="404.15" y1="349.2" x2="404.15" y2="345.2" stroke="#1c1c1c" stroke-width="1.4"/>
<line x1="400.15" y1="345.2" x2="408.15" y2="345.2" stroke="#1c1c1c" stroke-width="1.4"/>
<rect x="396.9" y="349.2" width="14.50" height="146.00" fill="#8c8c8c" stroke="#1c1c1c" stroke-width="1.5"/>
<line x1="418.45" y1="304.0" x2="418.45" y2="300.0" stroke="#1c1c1c" stroke-width="1.4"/>
<line x1="414.45" y1="300.0" x2="422.45" y2="300.0" stroke="#1c1c1c" stroke-width="1.4"/>
<rect x="411.4" y="304.0" width="14.10" height="191.20" fill="#4d4d4d" stroke="#1c1c1c" stroke-width="1.5"/>
<rect x="482.7" y="326.2" width="14.30" height="169.00" fill="#8c8c8c" stroke="#1c1c1c" stroke-width="1.5"/>
<rect x="497.0" y="290.8" width="14.50" height="204.40" fill="#4d4d4d" stroke="#1c1c1c" stroke-width="1.5"/>
<line x1="46.6" y1="457.4" x2="520" y2="457.4" stroke="#2b2b2b" stroke-opacity="0.56" stroke-width="1" stroke-dasharray="13.3 5.86"/>
<line x1="47.2" y1="274" x2="47.2" y2="495.8" stroke="#1c1c1c" stroke-width="1.5"/>
<line x1="46.5" y1="495.1" x2="519" y2="495.1" stroke="#1c1c1c" stroke-width="1.5"/>
<line x1="44.3" y1="495.20" x2="47.2" y2="495.20" stroke="#1c1c1c" stroke-width="1.3"/>
<line x1="44.3" y1="463.64" x2="47.2" y2="463.64" stroke="#1c1c1c" stroke-width="1.3"/>
<line x1="44.3" y1="432.08" x2="47.2" y2="432.08" stroke="#1c1c1c" stroke-width="1.3"/>
<line x1="44.3" y1="400.52" x2="47.2" y2="400.52" stroke="#1c1c1c" stroke-width="1.3"/>
<line x1="44.3" y1="368.96" x2="47.2" y2="368.96" stroke="#1c1c1c" stroke-width="1.3"/>
<line x1="44.3" y1="337.40" x2="47.2" y2="337.40" stroke="#1c1c1c" stroke-width="1.3"/>
<line x1="44.3" y1="305.84" x2="47.2" y2="305.84" stroke="#1c1c1c" stroke-width="1.3"/>
<line x1="44.3" y1="274.28" x2="47.2" y2="274.28" stroke="#1c1c1c" stroke-width="1.3"/>
<line x1="46.40" y1="495.1" x2="46.40" y2="498" stroke="#1c1c1c" stroke-width="1.2"/>
<line x1="89.30" y1="495.1" x2="89.30" y2="498" stroke="#1c1c1c" stroke-width="1.2"/>
<line x1="132.20" y1="495.1" x2="132.20" y2="498" stroke="#1c1c1c" stroke-width="1.2"/>
<line x1="175.10" y1="495.1" x2="175.10" y2="498" stroke="#1c1c1c" stroke-width="1.2"/>
<line x1="218.00" y1="495.1" x2="218.00" y2="498" stroke="#1c1c1c" stroke-width="1.2"/>
<line x1="260.90" y1="495.1" x2="260.90" y2="498" stroke="#1c1c1c" stroke-width="1.2"/>
<line x1="303.80" y1="495.1" x2="303.80" y2="498" stroke="#1c1c1c" stroke-width="1.2"/>
<line x1="346.70" y1="495.1" x2="346.70" y2="498" stroke="#1c1c1c" stroke-width="1.2"/>
<line x1="389.60" y1="495.1" x2="389.60" y2="498" stroke="#1c1c1c" stroke-width="1.2"/>
<line x1="432.50" y1="495.1" x2="432.50" y2="498" stroke="#1c1c1c" stroke-width="1.2"/>
<line x1="475.40" y1="495.1" x2="475.40" y2="498" stroke="#1c1c1c" stroke-width="1.2"/>
<line x1="518.30" y1="495.1" x2="518.30" y2="498" stroke="#1c1c1c" stroke-width="1.2"/>
<text x="36.9" y="467.24" font-family="Liberation Sans, sans-serif" font-size="8" text-anchor="end" fill="#111" class="b10" transform="translate(36.9,0) scale(1.35,1) translate(-36.9,0)">10</text>
<text x="37.4" y="463.84" font-family="Liberation Sans, sans-serif" font-size="7" fill="#111">1</text>
<text x="36.9" y="435.68" font-family="Liberation Sans, sans-serif" font-size="8" text-anchor="end" fill="#111" class="b10" transform="translate(36.9,0) scale(1.35,1) translate(-36.9,0)">10</text>
<text x="37.4" y="432.28" font-family="Liberation Sans, sans-serif" font-size="7" fill="#111">2</text>
<text x="36.9" y="404.12" font-family="Liberation Sans, sans-serif" font-size="8" text-anchor="end" fill="#111" class="b10" transform="translate(36.9,0) scale(1.35,1) translate(-36.9,0)">10</text>
<text x="37.4" y="400.72" font-family="Liberation Sans, sans-serif" font-size="7" fill="#111">3</text>
<text x="36.9" y="372.56" font-family="Liberation Sans, sans-serif" font-size="8" text-anchor="end" fill="#111" class="b10" transform="translate(36.9,0) scale(1.35,1) translate(-36.9,0)">10</text>
<text x="37.4" y="369.16" font-family="Liberation Sans, sans-serif" font-size="7" fill="#111">4</text>
<text x="36.9" y="341.00" font-family="Liberation Sans, sans-serif" font-size="8" text-anchor="end" fill="#111" class="b10" transform="translate(36.9,0) scale(1.35,1) translate(-36.9,0)">10</text>
<text x="37.4" y="337.60" font-family="Liberation Sans, sans-serif" font-size="7" fill="#111">5</text>
<text x="36.9" y="309.44" font-family="Liberation Sans, sans-serif" font-size="8" text-anchor="end" fill="#111" class="b10" transform="translate(36.9,0) scale(1.35,1) translate(-36.9,0)">10</text>
<text x="37.4" y="306.04" font-family="Liberation Sans, sans-serif" font-size="7" fill="#111">6</text>
<text x="36.9" y="277.88" font-family="Liberation Sans, sans-serif" font-size="8" text-anchor="end" fill="#111" class="b10" transform="translate(36.9,0) scale(1.35,1) translate(-36.9,0)">10</text>
<text x="37.4" y="274.48" font-family="Liberation Sans, sans-serif" font-size="7" fill="#111">7</text>
<text x="40.8" y="497.6" font-family="Liberation Sans, sans-serif" font-size="8" text-anchor="end" fill="#111" class="b10" transform="translate(40.8,0) scale(1.2,1) translate(-40.8,0)">1</text>
<text transform="translate(11.2,386.8) rotate(-90)" font-family="Liberation Sans, sans-serif" font-size="12" text-anchor="middle" fill="#111" textLength="70.5" lengthAdjust="spacingAndGlyphs">IFN<tspan font-size="9.5">γ</tspan> (pg/mL)</text>
<rect x="235.6" y="297.5" width="50.6" height="43.8" fill="#fff" stroke="#1c1c1c" stroke-width="1.3"/>
<rect x="240.5" y="306.0" width="7.1" height="7.6" fill="#8c8c8c" stroke="#111" stroke-width="1.5"/>
<rect x="240.5" y="325.8" width="7.1" height="7.6" fill="#4d4d4d" stroke="#111" stroke-width="1.5"/>
<text x="254" y="313.7" font-family="Liberation Sans, sans-serif" font-size="12" text-anchor="start" fill="#111" textLength="18.3" lengthAdjust="spacingAndGlyphs">20h</text>
<text x="254" y="333.8" font-family="Liberation Sans, sans-serif" font-size="12" text-anchor="start" fill="#111" textLength="18.3" lengthAdjust="spacingAndGlyphs">65h</text>
<text x="54.4" y="513.2" font-family="Liberation Sans, sans-serif" font-size="12" text-anchor="start" fill="#111" >CD8<tspan dy="-7" font-size="9">+</tspan></text>
<text x="94.4" y="513.2" font-family="Liberation Sans, sans-serif" font-size="12" text-anchor="start" fill="#111" >CD4<tspan dy="-7" font-size="9">+</tspan></text>
<text x="145.3" y="513.2" font-family="Liberation Sans, sans-serif" font-size="12" text-anchor="start" fill="#111" >DN</text>
<text x="225.3" y="513.2" font-family="Liberation Sans, sans-serif" font-size="12" text-anchor="start" fill="#111" >CD8<tspan dy="-7" font-size="9">+</tspan></text>
<text x="269.8" y="513.2" font-family="Liberation Sans, sans-serif" font-size="12" text-anchor="start" fill="#111" >CD4<tspan dy="-7" font-size="9">+</tspan></text>
<text x="318.3" y="513.2" font-family="Liberation Sans, sans-serif" font-size="12" text-anchor="start" fill="#111" >DN</text>
<text x="410.2" y="516" font-family="Liberation Sans, sans-serif" font-size="12" text-anchor="middle" fill="#111" >Putative</text>
<text x="410" y="527.8" font-family="Liberation Sans, sans-serif" font-size="12" text-anchor="middle" fill="#111" >IKDC</text>
<text x="497.5" y="523" font-family="Liberation Sans, sans-serif" font-size="12" text-anchor="middle" fill="#111" >NK</text>
<text x="123.8" y="543.2" font-family="Liberation Sans, sans-serif" font-size="12.5" text-anchor="middle" fill="#111" textLength="81.3" lengthAdjust="spacingAndGlyphs">Standard cDC</text>
<text x="280.8" y="543.6" font-family="Liberation Sans, sans-serif" font-size="12.5" text-anchor="middle" fill="#111" >NK-marker depleted cDC</text></svg>
</body></html>
